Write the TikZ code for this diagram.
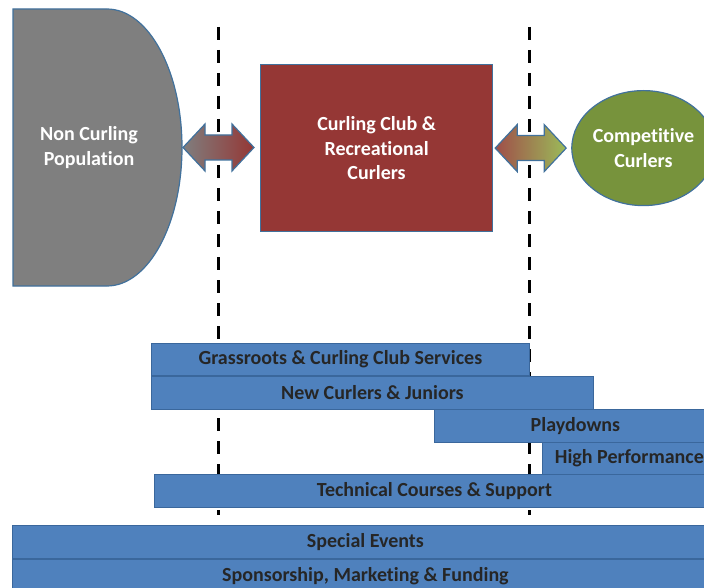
\documentclass[tikz,border=0pt]{standalone}
\usepackage{fontspec}
\setmainfont[Ligatures=NoCommon]{Carlito}
\usepackage{tikz}
\usetikzlibrary{positioning,calc,shapes.geometric}
\definecolor{popgray}{HTML}{7F7F7F}
\definecolor{clubred}{HTML}{953735}
\definecolor{compgreen}{HTML}{77933C}
\definecolor{lightgreen}{HTML}{9BBB59}
\definecolor{edgeblue}{HTML}{41719C}
\definecolor{barblue}{HTML}{4F81BD}
\definecolor{bardark}{HTML}{3A679C}
\definecolor{bartext}{HTML}{262626}
\tikzset{
    blob/.style={
      draw=edgeblue, line width=1.2pt,
      text=white,
      font=\bfseries\fontsize{20}{24.5}\selectfont,
      align=center,
    },
    bar/.style={
      rectangle,
      draw=bardark, fill=barblue, line width=0.8pt,
      anchor=north west,
      inner sep=0pt,
      text=bartext,
      font=\bfseries\fontsize{20}{24}\selectfont,
    },
    divider/.style={
      line width=3pt,
      dash pattern=on 13pt off 10pt,
    },
    swap/.style={
      draw=edgeblue, line width=1.2pt, line join=miter,
    },
}

\begin{document}
\begin{tikzpicture}[x=1pt,y=-1pt]

    \useasboundingbox (0,0) rectangle (704,588);
    \clip (0,0) rectangle (704,588);

    % dashed borders
    \coordinate (LTOP) at (218,27);
    \coordinate (LBOT) at (218,515);
    \coordinate (RTOP) at (529,27);
    \coordinate (RBOT) at (529,515);
    \draw[divider] (LTOP) -- (LBOT);
    \draw[divider] (RTOP) -- (RBOT);

    % non curling population
    \draw[blob, fill=popgray] (13,9) -- (107,9)
      arc[start angle=-90, end angle=90, x radius=75, y radius=138.5]
      -- (13,286) -- cycle;
    \coordinate (NONCURL) at (182,147.5);
    \node[blob, draw=none] (NONCURLTXT) at (89,147.5)
      {Non Curling\\Population};

    \node[blob, fill=clubred,
    minimum width=232pt, minimum height=167pt,
    anchor=north west] (CLUB) at (260,64)
      {Curling Club \&\\Recreational\\Curlers};

    \node[blob, ellipse, fill=compgreen,
    minimum width=136pt, minimum height=115pt,
    inner sep=0pt,
    right=78pt of CLUB.east] (COMP)
      {Competitive\\Curlers};

    % two-way arrows
    \path[swap, left color=popgray, right color=clubred]
    (NONCURL) ++(1,0) -- ++(22,-23.5) -- ++(0,11) -- ++(27,0)
      -- ++(0,-11) -- ++(22,23.5) -- ++(-22,23.5) -- ++(0,-11)
      -- ++(-27,0) -- ++(0,11) -- cycle;

    \path[swap, left color=clubred!90!white, right color=lightgreen]
    (CLUB.east) ++(2,0) -- ++(22,-23.5) -- ++(0,11) -- ++(27,0)
      -- ++(0,-11) -- ++(22,23.5) -- ++(-22,23.5) -- ++(0,-11)
      -- ++(-27,0) -- ++(0,11) -- cycle;

    % programme bars
    \node[bar, minimum width=378pt, minimum height=32pt] (GRASS) at (151,343)
      {Grassroots \& Curling Club Services};
    \node[bar, minimum width=442pt, minimum height=33pt] (NEWC) at (GRASS.south west)
      {New Curlers \& Juniors};
    \node[bar, minimum width=282pt, minimum height=33pt] (PLAY) at (434,409)
      {Playdowns};
    \node[bar, minimum width=174pt, minimum height=32pt] (HIGHP) at (542,442)
      {High Performance};
    \node[bar, minimum width=560pt, minimum height=33pt] (TECH) at (154,474)
      {Technical Courses \& Support};
    \node[bar, minimum width=706pt, minimum height=33pt] (SPEC) at (12,525)
      {Special Events};
    \node[bar, minimum width=706pt, minimum height=33pt] (SPONS) at (SPEC.south west)
      {Sponsorship, Marketing \& Funding};

\end{tikzpicture}
\end{document}
